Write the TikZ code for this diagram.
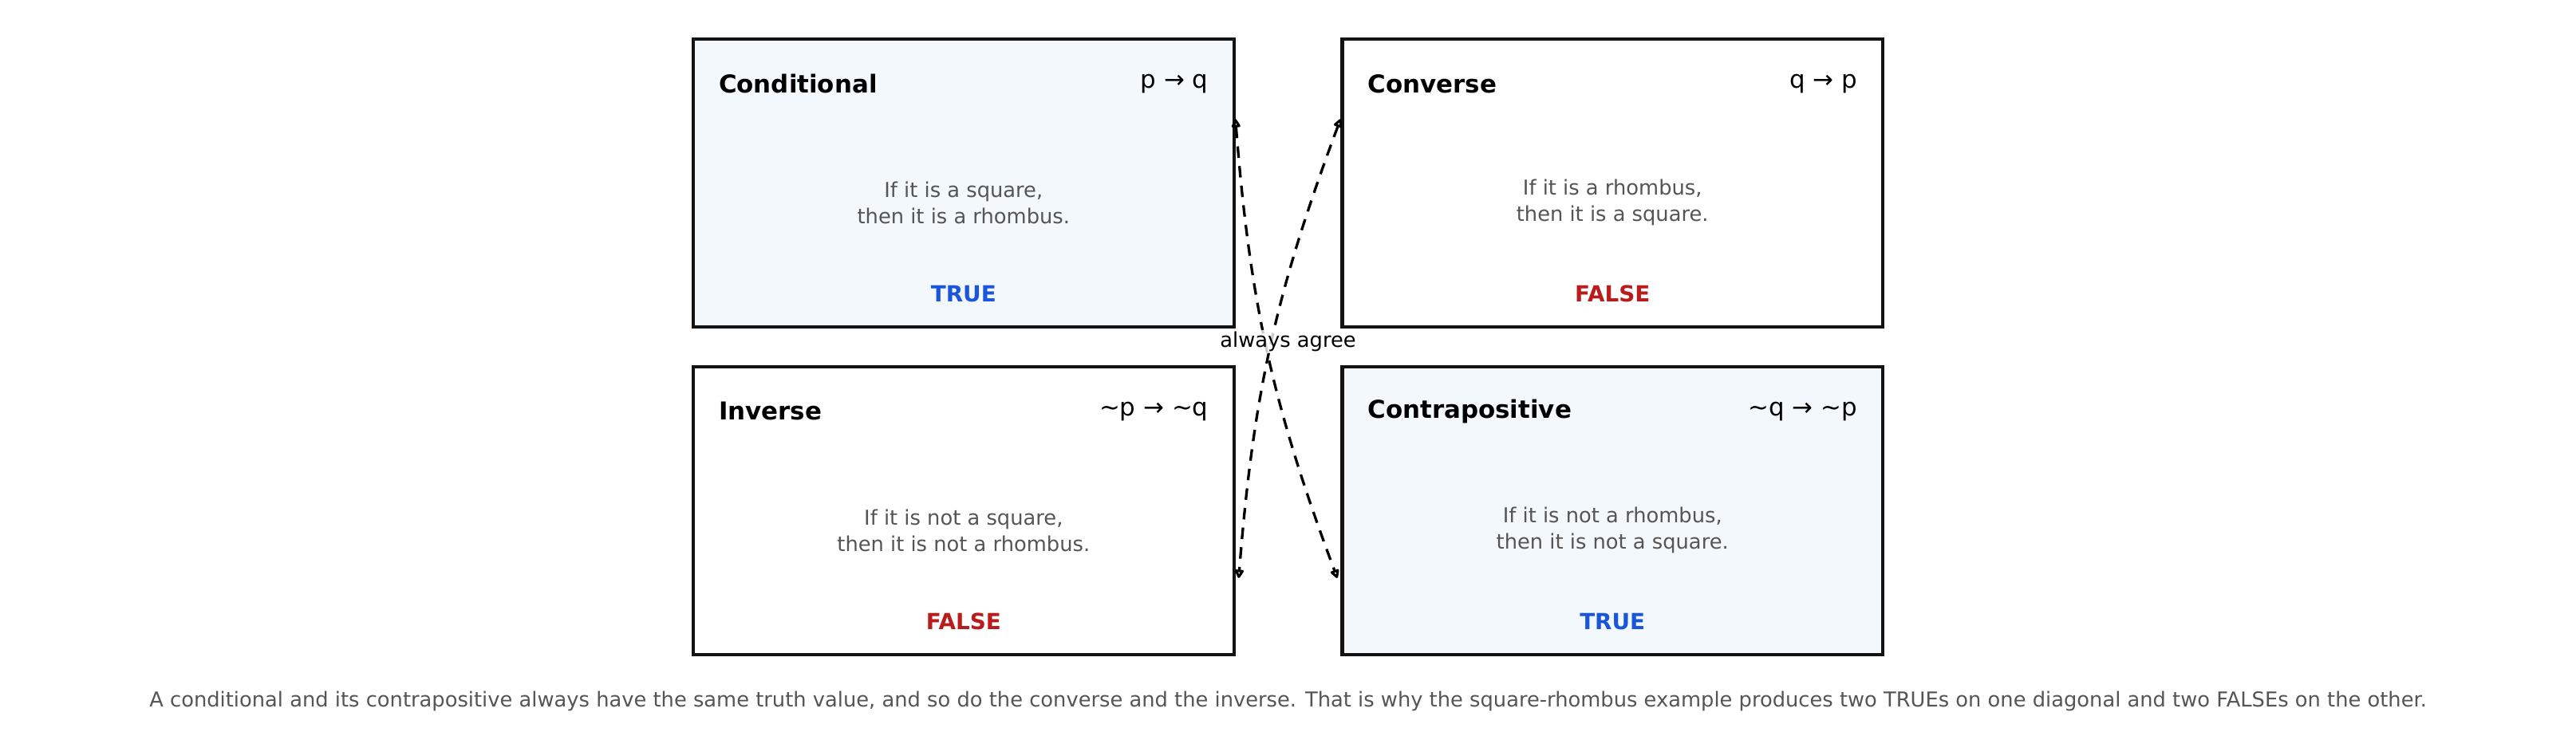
\documentclass[tikz,border=0pt]{standalone}
\usepackage{fontspec}
\setmainfont{DejaVu Sans}
\usetikzlibrary{positioning,arrows.meta}
\definecolor{boxfill}{HTML}{F3F8FC}
\definecolor{truecol}{HTML}{1A56DB}
\definecolor{falsecol}{HTML}{B91C1C}
\definecolor{bodycol}{HTML}{555555}
\tikzset{
  card/.style={draw=black!93, line width=2pt, minimum width=329pt, minimum height=175pt, inner sep=0pt},
  title/.style={font=\fontsize{15}{18}\selectfont\bfseries, anchor=west},
  formula/.style={font=\fontsize{15}{18}\selectfont, anchor=east},
  body/.style={font=\fontsize{12.5}{16}\selectfont, text=bodycol, align=center},
  verdict/.style={font=\fontsize{13.5}{16}\selectfont\bfseries},
  agree/.style={<->, >={Stealth[open=false, length=6pt, width=6pt, inset=0pt, round]}, dashed, dash pattern=on 7pt off 5pt, line width=1.6pt}
}
\begin{document}
\begin{tikzpicture}[x=1pt, y=-1pt]
  \useasboundingbox (0,0) rectangle (1568,445.3);
  % the four statements
  \node[card, fill=boxfill] (cond) at (586.5,111.5) {};
  \node[card, fill=white] (conv) at (981.5,111.5) {};
  \node[card, fill=white] (inv) at (586.5,311) {};
  \node[card, fill=boxfill] (contra) at (981.5,311) {};

  \node[title] at ([xshift=13pt, yshift=-28pt]cond.north west) {Conditional};
  \node[formula] at ([xshift=-13pt, yshift=-28pt]cond.north east) {p → q};
  \node[body] at ([yshift=-12pt]cond.center) {If it is a square,\\then it is a rhombus.};
  \node[verdict, text=truecol] at ([yshift=21pt]cond.south) {TRUE};

  \node[title] at ([xshift=13pt, yshift=-28pt]conv.north west) {Converse};
  \node[formula] at ([xshift=-13pt, yshift=-28pt]conv.north east) {q → p};
  \node[body] at ([yshift=-12pt]conv.center) {If it is a rhombus,\\then it is a square.};
  \node[verdict, text=falsecol] at ([yshift=21pt]conv.south) {FALSE};

  \node[title] at ([xshift=13pt, yshift=-28pt]inv.north west) {Inverse};
  \node[formula] at ([xshift=-13pt, yshift=-28pt]inv.north east) {\char`\~p → \char`\~q};
  \node[body] at ([yshift=-12pt]inv.center) {If it is not a square,\\then it is not a rhombus.};
  \node[verdict, text=falsecol] at ([yshift=21pt]inv.south) {FALSE};

  \node[title] at ([xshift=13pt, yshift=-28pt]contra.north west) {Contrapositive};
  \node[formula] at ([xshift=-13pt, yshift=-28pt]contra.north east) {\char`\~q → \char`\~p};
  \node[body] at ([yshift=-12pt]contra.center) {If it is not a rhombus,\\then it is not a square.};
  \node[verdict, text=truecol] at ([yshift=21pt]contra.south) {TRUE};

  % diagonals
  \coordinate (c1) at ([yshift=39pt]cond.east);
  \coordinate (c2) at ([xshift=-2pt, yshift=-41pt]contra.west);
  \coordinate (v1) at ([yshift=39pt]conv.west);
  \coordinate (i1) at ([xshift=2pt, yshift=-41pt]inv.east);
  \draw[agree] (c1) to[bend right=8] (c2);
  \draw[agree] (v1) to[bend right=8] (i1);
  \node[font=\fontsize{12.5}{15}\selectfont, fill=white, fill opacity=0.8, text opacity=1, inner sep=1pt] (lbl) at (784,208) {always agree};

  \node[font=\fontsize{12.5}{15}\selectfont, text=bodycol] (cap) at (784,427) {A conditional and its contrapositive always have the same truth value, and so do the converse and the inverse. That is why the square-rhombus example produces two TRUEs on one diagonal and two FALSEs on the other.};
\end{tikzpicture}
\end{document}
